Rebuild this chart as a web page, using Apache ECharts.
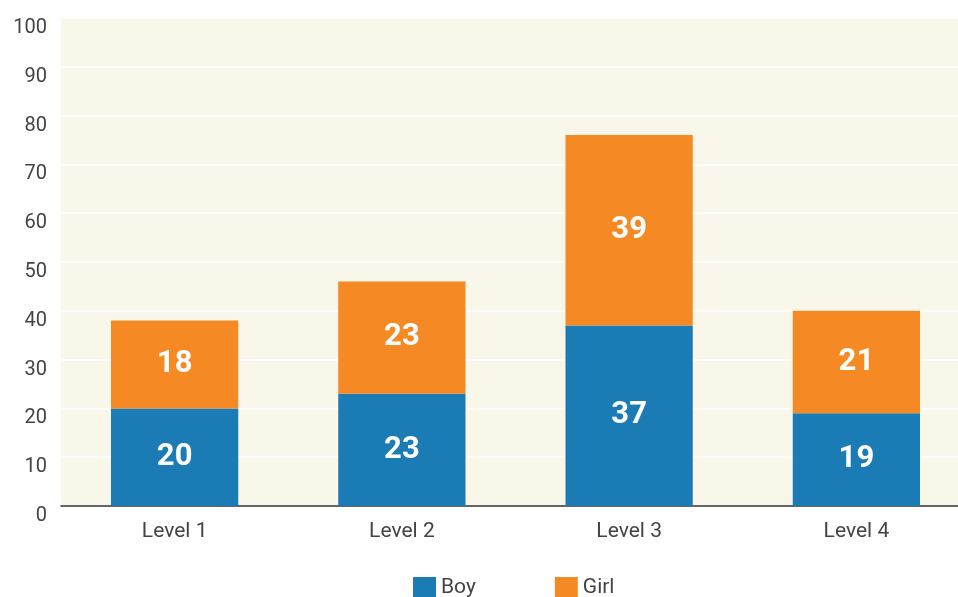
<!DOCTYPE html>
<html>
<head>
<meta charset="utf-8">
<script src="https://cdn.jsdelivr.net/npm/echarts@6/dist/echarts.min.js"></script>
<style>
  html, body { margin: 0; padding: 0; background: #fff; overflow: hidden; }
  #chart { width: 972px; height: 597px; }
</style>
</head>
<body>
<div id="chart"></div>
<script>
// data
const levels = ['Level 1', 'Level 2', 'Level 3', 'Level 4'];
const boy = [20, 23, 37, 19];
const girl = [18, 23, 39, 21];

const chart = echarts.init(document.getElementById('chart'));

const barLabel = {
  show: true,
  position: 'inside',
  color: '#fff',
  fontSize: 31,
  fontWeight: 'bold',
  fontFamily: 'Roboto'
};

chart.setOption({
  animation: false,
  textStyle: { fontFamily: 'Roboto' },
  grid: {
    left: 61, top: 18, width: 909, height: 488,
    show: true, backgroundColor: '#f9f6ea', borderWidth: 0
  },
  legend: {
    top: 572,
    left: 408,
    itemWidth: 23,
    itemHeight: 22,
    itemGap: 79,
    icon: 'rect',
    textStyle: { fontSize: 21, color: '#444', fontFamily: 'Roboto' },
    data: ['Boy', 'Girl']
  },
  xAxis: {
    type: 'category',
    data: levels,
    axisLine: { lineStyle: { color: '#333', width: 1.5 } },
    axisTick: { show: false },
    axisLabel: { fontSize: 21, color: '#444', margin: 15 }
  },
  yAxis: {
    type: 'value',
    min: 0, max: 100, interval: 10,
    axisLine: { show: false },
    axisTick: { show: false },
    splitLine: { lineStyle: { color: '#ffffff', width: 1.5 } },
    axisLabel: { fontSize: 20, color: '#444', margin: 14, verticalAlign: 'top' }
  },
  series: [
    {
      name: 'Boy', type: 'bar', stack: 'all', data: boy,
      barWidth: '56%',
      itemStyle: { color: '#1a7bb5' },
      label: barLabel
    },
    {
      name: 'Girl', type: 'bar', stack: 'all', data: girl,
      itemStyle: { color: '#f58a24' },
      label: barLabel
    }
  ]
});
</script>
</body>
</html>
